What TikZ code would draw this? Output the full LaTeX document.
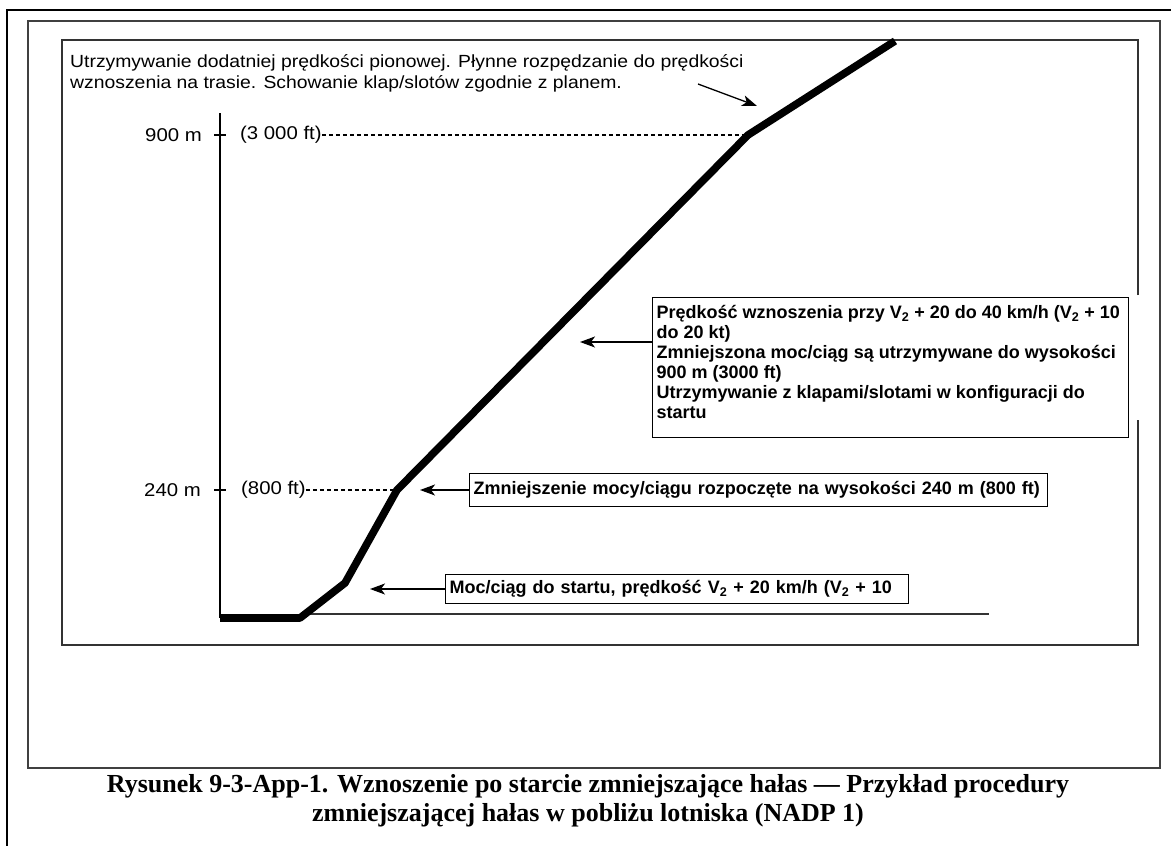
\documentclass[tikz,border=0pt]{standalone}
\usepackage{fontspec}
\setmainfont{Liberation Serif}
\newfontfamily\scanreg[FakeStretch=1.1]{Liberation Sans}
\newfontfamily\scanbold{Liberation Sans}[BoldFont={Liberation Sans Bold}]
\newcommand\topfont{\scanreg\fontsize{17.6}{21}\selectfont}
\newcommand\lblfont{\scanreg\fontsize{18.5}{21}\selectfont}
\newcommand\notefont{\scanbold\bfseries\fontsize{18}{20}\selectfont}
\newcommand\capfont{\rmfamily\bfseries\fontsize{26}{29}\selectfont}
\usetikzlibrary{arrows.meta}
\begin{document}
\begin{tikzpicture}[x=1pt,y=-1pt,
  frame/.style={line width=2.4pt},
  innerframe/.style={line width=1.5pt,draw=black!75},
  scan/.style={line width=1.3pt,draw=black!80},
  flight/.style={line width=7.6pt,line join=round},
  guide/.style={line width=1.1pt,dash pattern=on 4pt off 3pt},
  axisline/.style={line width=1.4pt},
  note/.style={draw,line width=1.4pt,font=\notefont,align=left,inner xsep=4pt,inner ysep=3pt},
  callout/.style={line width=1.3pt,-{Stealth[length=15pt,width=11pt,inset=4pt]}},
  lbl/.style={font=\lblfont,inner sep=0pt},
  toptext/.style={font=\topfont,inner sep=0pt,anchor=west},
  captext/.style={font=\capfont,inner sep=0pt}]
\useasboundingbox (0,0) rectangle (1171,846);
\fill[white] (0,0) rectangle (1171,846);
% frames
\draw[frame] (7,846) -- (7,10) -- (1171,10);
\draw[innerframe] (28,21) rectangle (1160,768);
% scanned chart border (with the gap of the scan on the right)
\coordinate (sbB) at (62,40);
\coordinate (sbC) at (62,645);
\coordinate (sbD) at (1138,645);
\coordinate (sbE) at (1138,420);
\coordinate (sbF) at (1138,295);
\coordinate (sbG) at (1138,40);
\draw[scan] (sbF) -- (sbG) -- (sbB) -- (sbC) -- (sbD) -- (sbE);
% top note
\node[toptext] (top1) at (70,63) {Utrzymywanie dodatniej prędkości pionowej. Płynne rozpędzanie do prędkości};
\node[toptext] (top2) at (70,84) {wznoszenia na trasie. Schowanie klap/slotów zgodnie z planem.};
% axis
\coordinate (axtop) at (220,113);
\coordinate (axbot) at (220,618);
\draw[axisline] (axtop) -- (axbot);
\coordinate (t9l) at (214,135); \coordinate (t9r) at (226,135);
\coordinate (t2l) at (214,490); \coordinate (t2r) at (226,490);
\draw[axisline] (t9l) -- (t9r);
\draw[axisline] (t2l) -- (t2r);
\node[lbl,anchor=east] (m900) at (202,135) {900 m};
\node[lbl,anchor=west] (ft900) at (240,135) {(3 000 ft)};
\node[lbl,anchor=east] (m240) at (201,490) {240 m};
\node[lbl,anchor=west] (ft240) at (241,490) {(800 ft)};
% flight path
\coordinate (g0) at (220,618);
\coordinate (g1) at (300,618);
\coordinate (g2) at (345,583);
\coordinate (g3) at (397,490);
\coordinate (g4) at (748,135);
\coordinate (g5) at (895,41);
\coordinate (rwyA) at (300,614);
\coordinate (rwyB) at (989,614);
\draw[scan] (rwyA) -- (rwyB);
\draw[guide] (ft900.east) -- (g4);
\draw[guide] (ft240.east) -- (g3);
\draw[flight] (g0) -- (g1) -- (g2) -- (g3) -- (g4) -- (g5);
% top arrow
\coordinate (ta0) at (698,84);
\coordinate (ta1) at (757,106);
\draw[callout] (ta0) -- (ta1);
% climb note
\node[note,anchor=north west] (climbnote) at (652,297) {\begin{minipage}[t][134pt][t]{468pt}\raggedright
\rule{0pt}{18pt}Prędkość wznoszenia przy V\textsubscript{2} + 20 do 40 km/h (V\textsubscript{2} + 10\\
do 20 kt)\\
Zmniejszona moc/ciąg są utrzymywane do wysokości\\
900 m (3000 ft)\\
Utrzymywanie z klapami/slotami w konfiguracji do\\
startu\end{minipage}};
\coordinate (climbtip) at (580,342);
\draw[callout] (climbnote.west |- climbtip) -- (climbtip);
% cutback note
\node[note,anchor=west,text width=570pt,minimum height=33pt] (cutnote) at (469,490) {Zmniejszenie mocy/ciągu rozpoczęte na wysokości 240 m (800 ft)};
\coordinate (cuttip) at (420,490);
\draw[callout] (cutnote.west) -- (cuttip);
% takeoff note
\node[note,anchor=west,text width=455pt,minimum height=29pt] (tonote) at (445,589) {Moc/ciąg do startu, prędkość V\textsubscript{2} + 20 km/h (V\textsubscript{2} + 10};
\coordinate (totip) at (370,589);
\draw[callout] (tonote.west) -- (totip);
% caption
\node[captext] (cap1) at (588,786) {Rysunek 9-3-App-1. Wznoszenie po starcie zmniejszające hałas — Przykład procedury};
\node[captext] (cap2) at (588,815) {zmniejszającej hałas w pobliżu lotniska (NADP 1)};
\end{tikzpicture}
\end{document}
